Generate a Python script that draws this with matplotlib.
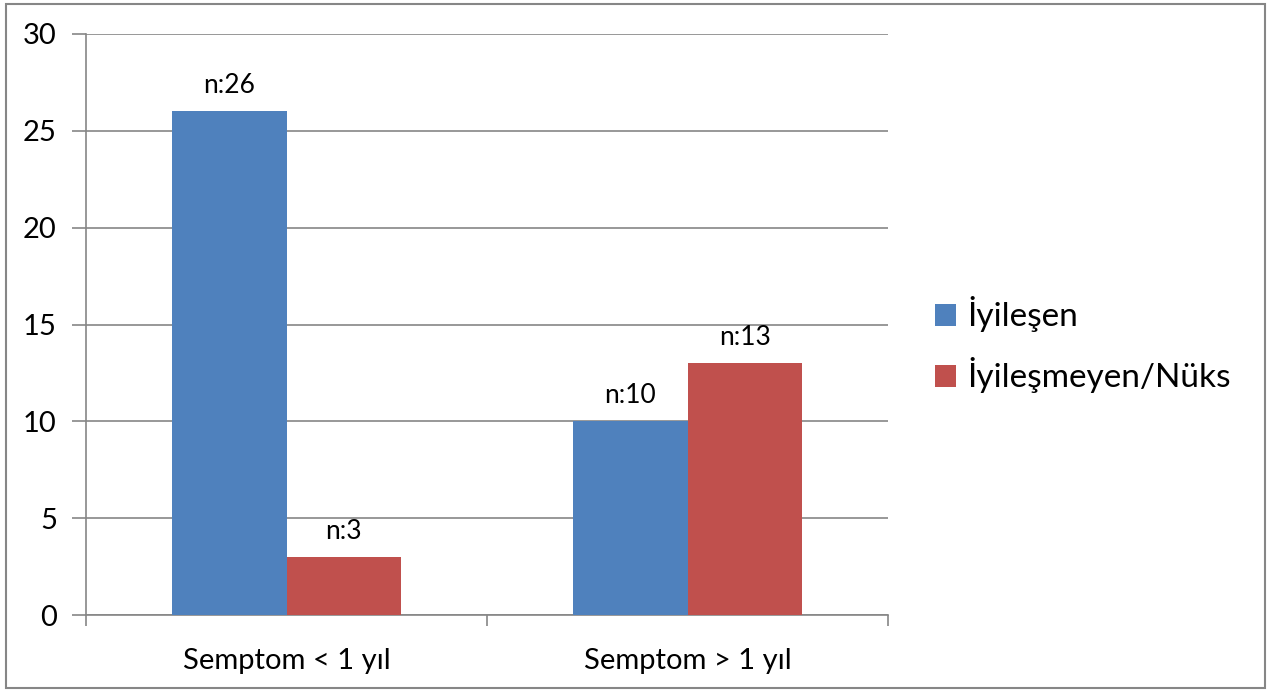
import matplotlib
matplotlib.use("Agg")
import matplotlib.pyplot as plt
import numpy as np
from matplotlib.patches import Rectangle

plt.rcParams['font.family'] = ['Lato', 'DejaVu Sans']

categories = ["Semptom < 1 yıl", "Semptom > 1 yıl"]
series_names = ["İyileşen", "İyileşmeyen/Nüks"]
iyilesen = [26, 10]
nuks = [3, 13]
labels_iyilesen = ["n:26", "n:10"]
labels_nuks = ["n:3", "n:13"]
colors = ["#4F81BD", "#C0504D"]
yticks = [0, 5, 10, 15, 20, 25, 30]

W, H = 1275, 693
fig = plt.figure(figsize=(W / 100, H / 100), dpi=100)
fig.patches.append(Rectangle((6 / W, 1 - 688 / H), 1259 / W, 684 / H, transform=fig.transFigure,
                             fill=False, edgecolor="#868686", linewidth=1.5))

ax = fig.add_axes([86 / W, 1 - 615 / H, (888 - 86) / W, (615 - 34) / H])
x = np.arange(len(categories))
bw = 1 / 3.5
b1 = ax.bar(x - bw / 2, iyilesen, bw, color=colors[0], label=series_names[0], zorder=3)
b2 = ax.bar(x + bw / 2, nuks, bw, color=colors[1], label=series_names[1], zorder=3)
for bars, labs in ((b1, labels_iyilesen), (b2, labels_nuks)):
    for r, lab in zip(bars, labs):
        ax.annotate(lab, (r.get_x() + r.get_width() / 2, r.get_height()),
                    xytext=(0, 13), textcoords="offset pixels", ha="center", va="bottom",
                    fontsize=19)

ax.set_xlim(-0.5, 1.5)
ax.set_ylim(0, 30)
ax.set_yticks(yticks)
ax.set_yticklabels([str(v) for v in yticks], fontsize=21)
ax.yaxis.grid(True, color="#868686", linewidth=1.2, zorder=0)
ax.set_xticks(x)
ax.set_xticklabels(categories, fontsize=21)
ax.tick_params(axis='x', length=0, pad=24)
ax.set_xticks([-0.5, 0.5, 1.5], minor=True)
ax.tick_params(axis='x', which='minor', length=8, color="#868686", width=1.2)
ax.tick_params(axis='y', length=10, color="#868686", width=1.2, pad=11)
for s in ("top", "right"):
    ax.spines[s].set_visible(False)
for s in ("left", "bottom"):
    ax.spines[s].set_color("#868686")
    ax.spines[s].set_linewidth(1.2)

leg = ax.legend(loc="center left", bbox_to_anchor=(1.058, 0.465), frameon=False, fontsize=24,
                handlelength=0.65, handleheight=0.65, handletextpad=0.35, labelspacing=0.75,
                borderaxespad=0, borderpad=0)

fig.savefig("out.png", dpi=100)
